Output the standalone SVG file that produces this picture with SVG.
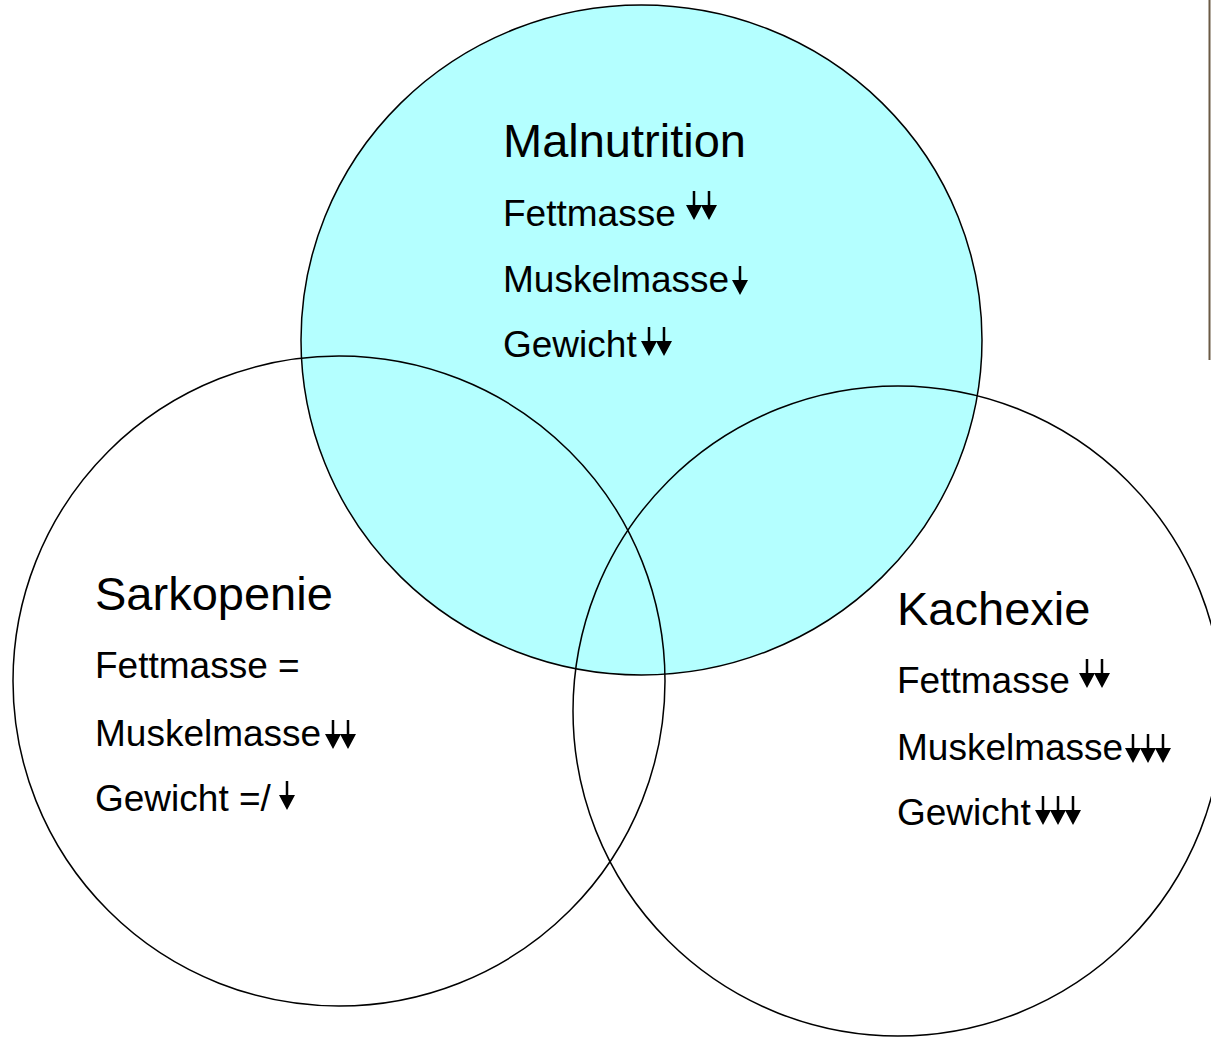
<svg xmlns="http://www.w3.org/2000/svg" xmlns:xlink="http://www.w3.org/1999/xlink" width="1211" height="1037" viewBox="0 0 1211 1037">
<defs>
<style>
.c{fill:none;stroke:#000;stroke-width:1.5}
.t{font-family:"Liberation Sans",Arial,sans-serif;fill:#000}
.h{font-size:47px}
.s{font-size:37px}
</style>
<path id="ar" d="M-1.25,0H1.25V14H8L0,29L-8,14H-1.25Z" fill="#000"/>
</defs>
<rect width="1211" height="1037" fill="#fff"/>
<line x1="1209.5" y1="0" x2="1209.5" y2="360" stroke="#6b5a45" stroke-width="2"/>
<g id="malnutrition">
<ellipse cx="641.5" cy="340" rx="340.5" ry="335" fill="#b4ffff" stroke="#000" stroke-width="1.5"/>
</g>
<g id="sarkopenie">
<ellipse class="c" cx="339" cy="681" rx="326" ry="325"/>
</g>
<g id="kachexie">
<ellipse class="c" cx="898" cy="711" rx="325" ry="325"/>
</g>
<g id="malnutrition-text" class="t">
<text class="h" x="503" y="157">Malnutrition</text>
<text class="s" x="503" y="226">Fettmasse</text>
<use xlink:href="#ar" x="694" y="191"/><use xlink:href="#ar" x="709" y="191"/>
<text class="s" x="503" y="292">Muskelmasse</text>
<use xlink:href="#ar" x="740" y="266"/>
<text class="s" x="503" y="357">Gewicht</text>
<use xlink:href="#ar" x="649" y="327"/><use xlink:href="#ar" x="664" y="327"/>
</g>
<g id="sarkopenie-text" class="t">
<text class="h" x="95" y="610">Sarkopenie</text>
<text class="s" x="95" y="678">Fettmasse =</text>
<text class="s" x="95" y="746">Muskelmasse</text>
<use xlink:href="#ar" x="333" y="720"/><use xlink:href="#ar" x="348" y="720"/>
<text class="s" x="95" y="811">Gewicht =/</text>
<use xlink:href="#ar" x="287" y="781"/>
</g>
<g id="kachexie-text" class="t">
<text class="h" x="897" y="625">Kachexie</text>
<text class="s" x="897" y="693">Fettmasse</text>
<use xlink:href="#ar" x="1087" y="659"/><use xlink:href="#ar" x="1102" y="659"/>
<text class="s" x="897" y="760">Muskelmasse</text>
<use xlink:href="#ar" x="1133" y="734"/><use xlink:href="#ar" x="1148" y="734"/><use xlink:href="#ar" x="1163" y="734"/>
<text class="s" x="897" y="825">Gewicht</text>
<use xlink:href="#ar" x="1043" y="796"/><use xlink:href="#ar" x="1058" y="796"/><use xlink:href="#ar" x="1073" y="796"/>
</g>
<g id="connectors"></g>
</svg>
